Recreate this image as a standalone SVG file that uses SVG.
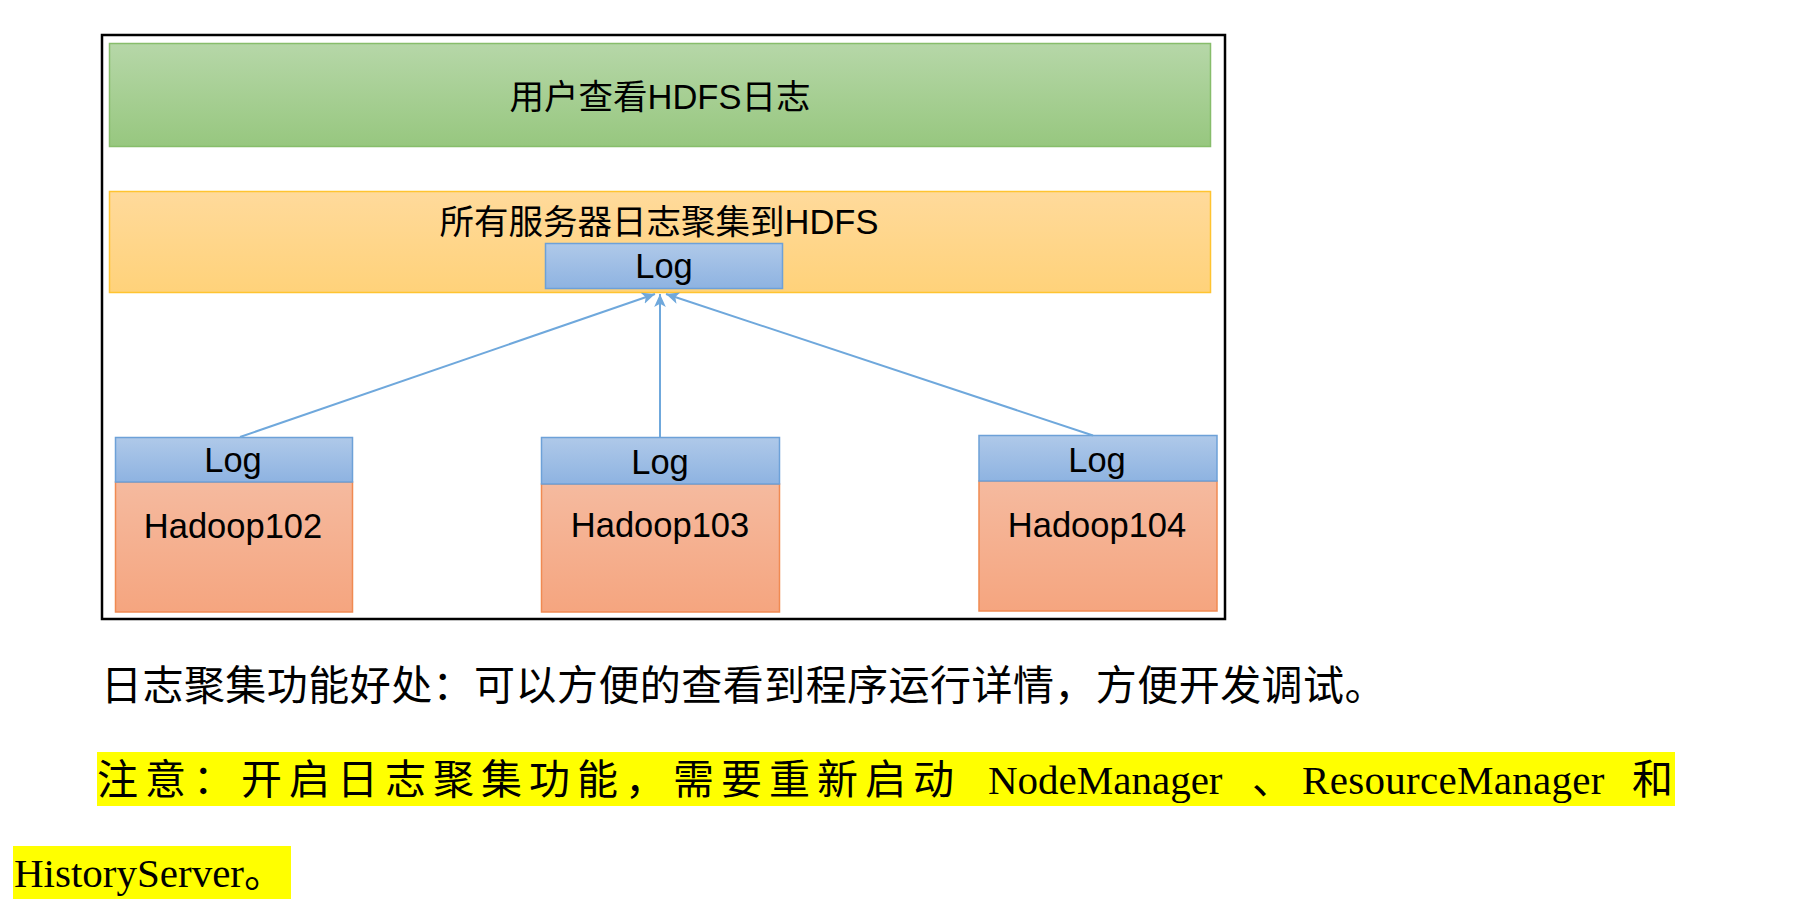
<svg xmlns="http://www.w3.org/2000/svg" width="1803" height="910" viewBox="0 0 1803 910">
  <defs>
    <linearGradient id="gGreen" x1="0" y1="0" x2="0" y2="1">
      <stop offset="0" stop-color="#B6D7A8"/>
      <stop offset="1" stop-color="#97C77F"/>
    </linearGradient>
    <linearGradient id="gOrange" x1="0" y1="0" x2="0" y2="1">
      <stop offset="0" stop-color="#FFDA9B"/>
      <stop offset="1" stop-color="#FFD27A"/>
    </linearGradient>
    <linearGradient id="gBlue" x1="0" y1="0" x2="0" y2="1">
      <stop offset="0" stop-color="#AFC9E9"/>
      <stop offset="1" stop-color="#8EB3E1"/>
    </linearGradient>
    <linearGradient id="gSalmon" x1="0" y1="0" x2="0" y2="1">
      <stop offset="0" stop-color="#F5BA9F"/>
      <stop offset="1" stop-color="#F5A57F"/>
    </linearGradient>
    <marker id="arrow" viewBox="0 0 10 10" refX="10" refY="5" markerWidth="13" markerHeight="13" markerUnits="userSpaceOnUse" orient="auto">
      <path d="M0,0.5 L10,5 L0,9.5 L2.5,5 Z" fill="#6FA8DC"/>
    </marker>
    <style>
      .frame { fill: #FFFFFF; stroke: #000000; stroke-width: 2.5; }
      .green { fill: url(#gGreen); stroke: #87BD6B; stroke-width: 1.5; }
      .orange { fill: url(#gOrange); stroke: #FFC430; stroke-width: 1.5; }
      .log { fill: url(#gBlue); stroke: #6DA1D8; stroke-width: 1.5; }
      .host { fill: url(#gSalmon); stroke: #F08A52; stroke-width: 1.5; }
      .dt { font-family: "Liberation Sans", "Noto Sans CJK SC", sans-serif; fill: #000000; text-anchor: middle; }
      .big { font-size: 34.5px; }
      .node { font-size: 34.5px; }
      .body { font-family: "Liberation Serif", "Noto Sans CJK SC", serif; font-size: 41px; fill: #000000; }
      .hl { fill: #FFFF00; }
      .conn { stroke: #6FA8DC; stroke-width: 2; fill: none; marker-end: url(#arrow); }
    </style>
  </defs>

  <rect class="frame" x="102" y="35" width="1123" height="584"/>

  <g id="user-view">
    <rect class="green" x="109.5" y="43.5" width="1101" height="103"/>
    <text class="dt big" x="660" y="109">用户查看HDFS日志</text>
  </g>

  <g id="hdfs-aggregate">
    <rect class="orange" x="109.5" y="191.5" width="1101" height="101"/>
    <text class="dt big" x="659" y="234">所有服务器日志聚集到HDFS</text>
  </g>

  <g id="hdfs-log">
    <rect class="log" x="545.5" y="243.5" width="237" height="45"/>
    <text class="dt node" x="664" y="278">Log</text>
  </g>

  <g id="hadoop102">
    <rect class="host" x="115.5" y="482" width="237" height="130"/>
    <rect class="log" x="115.5" y="437.5" width="237" height="44.5"/>
    <text class="dt node" x="233" y="472">Log</text>
    <text class="dt node" x="233" y="538">Hadoop102</text>
  </g>

  <g id="hadoop103">
    <rect class="host" x="541.5" y="484" width="238" height="128"/>
    <rect class="log" x="541.5" y="437.5" width="238" height="46.5"/>
    <text class="dt node" x="660" y="474">Log</text>
    <text class="dt node" x="660" y="537">Hadoop103</text>
  </g>

  <g id="hadoop104">
    <rect class="host" x="979" y="481" width="238" height="130"/>
    <rect class="log" x="979" y="435.5" width="238" height="45.5"/>
    <text class="dt node" x="1097" y="472">Log</text>
    <text class="dt node" x="1097" y="537">Hadoop104</text>
  </g>

  <g id="connectors">
    <line class="conn" x1="240" y1="437" x2="655" y2="294"/>
    <line class="conn" x1="660" y1="437" x2="660" y2="294"/>
    <line class="conn" x1="1093" y1="435.5" x2="666" y2="294"/>
  </g>

  <g id="notes">
    <text class="body" x="101" y="700" letter-spacing="0.45">日志聚集功能好处：可以方便的查看到程序运行详情，方便开发调试。</text>
    <rect class="hl" x="97" y="752" width="1578" height="54"/>
    <text class="body" x="97" y="794" letter-spacing="7">注意：开启日志聚集功能，需要重新启动</text>
    <text class="body" x="988" y="794">NodeManager</text>
    <text class="body" x="1252" y="794">、</text>
    <text class="body" x="1302" y="794" letter-spacing="0.3">ResourceManager</text>
    <text class="body" x="1632" y="794">和</text>
    <rect class="hl" x="13" y="846" width="278" height="53"/>
    <text class="body" x="14" y="887">HistoryServer。</text>
  </g>
</svg>
